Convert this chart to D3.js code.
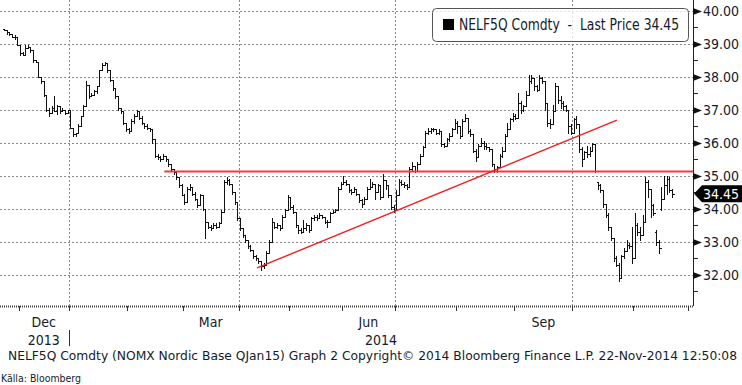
<!DOCTYPE html>
<html lang="en">
	<head>
		<meta charset="utf-8">
		<title>NELF5Q Comdty</title>
		<script type="text/javascript" src="https://cdn.jsdelivr.net/npm/d3@7"></script>
		<style type="text/css">
			body{
				margin: 0px;
				overflow: hidden;
				background: #fff;
			}
			text{
				font-family: "Liberation Sans Narrow", "DejaVu Sans Condensed", sans-serif;
				fill: #141b2d;
			}
			.grid line{
				stroke: #8a8a8a;
				stroke-dasharray: 2,2;
				shape-rendering: crispEdges;
			}
			.bar{
				stroke: #111;
				stroke-width: 1;
				shape-rendering: crispEdges;
			}
		</style>
	</head>
	<body>
		<script type="text/javascript">

			var width = 742;
			var height = 385;

			//Daily OHLC, 22-Nov-2013 .. 21-Nov-2014 (trading days)
			const opens = [39.45,39.40,39.35,39.30,39.20,39.20,38.95,38.70,38.65,38.85,38.90,38.80,38.50,38.45,38.00,37.85,37.45,37.00,36.90,37.05,
				36.95,37.10,36.95,37.00,36.90,37.00,36.45,36.25,36.30,36.50,36.80,37.10,37.75,37.40,37.45,37.55,37.70,38.20,38.35,38.40,
				38.20,37.90,37.65,37.40,37.05,36.95,36.60,36.40,36.35,36.65,36.80,36.95,36.75,36.60,36.50,36.45,36.40,36.10,35.60,35.55,
				35.50,35.60,35.50,35.35,35.20,35.10,34.95,34.70,34.40,34.20,34.60,34.65,34.45,34.30,34.10,34.40,34.00,33.60,33.45,33.40,
				33.50,33.45,33.55,33.90,34.80,34.85,34.75,34.50,34.20,33.70,33.40,33.20,33.05,32.85,32.75,32.55,32.50,32.40,32.25,32.30,
				32.65,33.00,33.60,33.45,33.50,33.40,33.75,33.95,34.35,34.05,33.90,33.50,33.35,33.30,33.40,33.50,33.35,33.70,33.75,33.70,
				33.80,33.75,33.60,33.60,33.85,33.90,33.95,34.60,34.75,34.80,34.75,34.55,34.50,34.60,34.45,34.25,34.15,34.30,34.60,34.65,
				34.75,34.50,34.70,34.35,34.85,34.70,34.40,34.05,33.95,34.40,34.80,34.75,34.70,34.65,35.20,35.30,35.15,35.35,35.60,35.85,
				36.30,36.35,36.40,36.40,36.30,36.35,35.95,35.90,36.10,36.20,36.40,36.60,36.50,36.20,36.65,36.75,36.35,36.25,35.75,35.55,
				35.90,36.00,35.90,35.85,35.80,35.35,35.20,35.25,35.60,35.75,36.20,36.40,36.70,36.80,36.75,37.20,37.00,37.10,37.45,37.85,
				37.95,37.70,37.60,37.95,37.85,37.20,36.60,36.55,36.95,37.70,37.30,37.20,37.10,37.00,36.50,36.30,36.70,36.55,35.80,35.50,
				35.70,35.65,35.75,35.95,34.80,34.70,34.55,34.15,33.80,33.45,33.10,32.50,32.30,31.90,32.55,32.70,32.90,32.85,32.50,33.50,
				33.30,33.20,33.60,34.80,34.60,34.10,33.30,33.00,34.00,34.30,34.70,34.90,34.55];
			const highs = [39.45,39.40,39.35,39.30,39.25,39.20,38.95,38.75,38.95,38.95,38.90,38.80,38.50,38.45,38.00,37.85,37.45,37.05,37.10,37.40,
				37.15,37.10,37.05,37.00,37.00,37.00,36.45,36.30,36.55,36.80,37.15,37.85,37.75,37.50,37.60,37.70,38.20,38.40,38.45,38.40,
				38.20,37.90,37.65,37.40,37.05,36.95,36.60,36.45,36.70,36.85,37.00,36.95,36.80,36.60,36.55,36.45,36.40,36.10,35.65,35.60,
				35.65,35.60,35.50,35.35,35.20,35.10,34.95,34.75,34.45,34.65,34.75,34.65,34.50,34.30,34.45,34.40,34.00,33.60,33.50,33.55,
				33.55,33.60,33.95,34.85,34.95,34.90,34.75,34.50,34.20,33.70,33.40,33.20,33.05,32.90,32.75,32.60,32.50,32.40,32.35,32.70,
				33.05,33.70,33.60,33.55,33.50,33.80,34.00,34.40,34.35,34.10,33.90,33.50,33.40,33.65,33.55,33.50,33.75,33.80,33.80,33.85,
				33.80,33.75,33.65,33.90,33.95,34.00,34.65,34.80,35.00,34.85,34.75,34.60,34.65,34.60,34.45,34.30,34.35,34.65,34.90,34.80,
				34.75,34.75,34.70,35.05,34.85,34.70,34.40,34.10,34.55,34.90,34.85,34.80,34.75,35.25,35.40,35.30,35.40,35.65,35.90,36.35,
				36.45,36.45,36.45,36.40,36.40,36.35,36.00,36.15,36.30,36.45,36.70,36.65,36.50,36.70,36.85,36.75,36.40,36.25,35.80,35.95,
				36.15,36.05,36.00,35.85,35.80,35.35,35.30,35.65,35.85,36.25,36.60,36.75,36.90,36.85,37.50,37.25,37.15,37.55,38.05,38.05,
				37.95,37.75,38.05,38.00,37.85,37.20,36.70,37.15,37.80,37.70,37.40,37.25,37.15,37.00,36.55,36.75,36.80,36.55,35.85,35.75,
				35.90,35.85,36.00,35.95,34.80,34.75,34.55,34.15,33.85,33.45,33.10,32.55,32.35,32.60,32.80,33.05,32.95,33.45,33.85,33.55,
				33.45,33.80,34.95,34.85,34.60,34.15,33.35,33.05,34.65,35.00,35.00,34.95,34.60];
			const lows = [39.40,39.30,39.25,39.20,39.15,38.95,38.65,38.65,38.65,38.85,38.75,38.45,38.45,38.00,37.80,37.40,36.95,36.80,36.90,36.95,
				36.85,36.90,36.95,36.85,36.90,36.45,36.20,36.20,36.30,36.50,36.80,37.10,37.35,37.40,37.45,37.50,37.70,38.20,38.35,38.15,
				37.85,37.60,37.35,37.00,36.90,36.55,36.35,36.30,36.35,36.60,36.80,36.70,36.55,36.45,36.40,36.35,36.00,35.55,35.50,35.45,
				35.50,35.45,35.30,35.15,35.05,34.90,34.65,34.40,34.15,34.20,34.55,34.40,34.25,34.05,34.10,33.95,33.10,33.40,33.35,33.40,
				33.40,33.45,33.55,33.90,34.75,34.70,34.45,34.15,33.65,33.35,33.15,33.00,32.80,32.70,32.50,32.45,32.35,32.15,32.20,32.30,
				32.65,33.00,33.40,33.40,33.35,33.40,33.75,33.95,34.00,33.85,33.45,33.25,33.25,33.30,33.35,33.30,33.35,33.65,33.65,33.70,
				33.70,33.55,33.45,33.60,33.85,33.90,33.95,34.60,34.75,34.70,34.50,34.45,34.50,34.40,34.20,34.05,34.15,34.30,34.60,34.65,
				34.30,34.50,34.30,34.35,34.60,34.35,34.00,33.90,33.95,34.40,34.70,34.65,34.60,34.65,35.15,35.10,35.15,35.35,35.60,35.85,
				36.25,36.30,36.35,36.25,36.25,35.90,35.85,35.90,36.05,36.20,36.40,36.30,36.15,36.20,36.65,36.30,36.20,35.70,35.45,35.55,
				35.90,35.80,35.80,35.75,35.30,35.10,35.10,35.25,35.55,35.75,36.20,36.40,36.65,36.70,36.75,36.90,36.95,37.10,37.45,37.80,
				37.60,37.55,37.60,37.80,37.00,36.50,36.45,36.55,36.95,37.20,37.05,37.00,36.95,36.30,36.25,36.30,36.45,35.70,35.30,35.50,
				35.55,35.60,35.75,35.10,34.60,34.50,34.05,33.75,33.35,33.05,32.40,32.25,31.80,31.90,32.50,32.70,32.80,32.35,32.50,33.20,
				33.05,33.20,33.60,34.35,33.75,33.80,32.90,32.65,33.95,34.30,34.45,34.50,34.35];
			const closes = [39.40,39.35,39.30,39.20,39.20,38.95,38.70,38.65,38.85,38.90,38.80,38.50,38.45,38.00,37.85,37.45,37.00,36.90,37.05,36.95,
				37.10,36.95,37.00,36.90,37.00,36.45,36.25,36.30,36.50,36.80,37.10,37.75,37.40,37.45,37.55,37.70,38.20,38.35,38.40,38.20,
				37.90,37.65,37.40,37.05,36.95,36.60,36.40,36.35,36.65,36.80,36.95,36.75,36.60,36.50,36.45,36.40,36.10,35.60,35.55,35.50,
				35.60,35.50,35.35,35.20,35.10,34.95,34.70,34.40,34.20,34.60,34.65,34.45,34.30,34.10,34.40,34.00,33.60,33.45,33.40,33.50,
				33.45,33.55,33.90,34.80,34.85,34.75,34.50,34.20,33.70,33.40,33.20,33.05,32.85,32.75,32.55,32.50,32.40,32.25,32.30,32.65,
				33.00,33.60,33.45,33.50,33.40,33.75,33.95,34.35,34.05,33.90,33.50,33.35,33.30,33.40,33.50,33.35,33.70,33.75,33.70,33.80,
				33.75,33.60,33.60,33.85,33.90,33.95,34.60,34.75,34.80,34.75,34.55,34.50,34.60,34.45,34.25,34.15,34.30,34.60,34.65,34.75,
				34.50,34.70,34.35,34.85,34.70,34.40,34.05,33.95,34.40,34.80,34.75,34.70,34.65,35.20,35.30,35.15,35.35,35.60,35.85,36.30,
				36.35,36.40,36.40,36.30,36.35,35.95,35.90,36.10,36.20,36.40,36.60,36.50,36.20,36.65,36.75,36.35,36.25,35.75,35.55,35.90,
				36.00,35.90,35.85,35.80,35.35,35.20,35.25,35.60,35.75,36.20,36.40,36.70,36.80,36.75,37.20,37.00,37.10,37.45,37.85,37.95,
				37.70,37.60,37.95,37.85,37.20,36.60,36.55,36.95,37.70,37.30,37.20,37.10,37.00,36.50,36.30,36.70,36.55,35.80,35.50,35.70,
				35.65,35.75,35.95,35.15,34.70,34.55,34.15,33.80,33.45,33.10,32.50,32.30,31.90,32.55,32.70,32.90,32.85,32.50,33.50,33.30,
				33.20,33.60,34.80,34.60,34.10,33.85,33.00,32.80,34.30,34.70,34.90,34.55,34.45];

			//Month boundaries in trading-day index
			const monthNames = ['Dec', 'Jan', 'Feb', 'Mar', 'Apr', 'May', 'Jun', 'Jul', 'Aug', 'Sep', 'Oct', 'Nov'];
			const monthStarts = [5.5, 24.5, 46.5, 67.5, 88.5, 107.5, 127.5, 147.5, 170.5, 192.5, 214.5, 237.5, 258.3];
			const labelledMonths = ['Dec', 'Mar', 'Jun', 'Sep'];
			const gridMonths = ['Jan', 'Apr', 'Jul', 'Oct'];
			const years = [{ label: '2013', from: 5.5, to: 24.5 }, { label: '2014', from: 24.5, to: 260 }];

			const yTicks = [32, 33, 34, 35, 36, 37, 38, 39, 40];
			const yMinor = [31.5, 32.5, 33.5, 34.5, 35.5, 36.5, 37.5, 38.5, 39.5];
			const lastPrice = 34.45;

			//Red trend lines drawn on the chart
			const resistance = { from: 60.5, to: 260, value: 35.12 };
			const trend = { from: 95.5, fromValue: 32.2, to: 231.3, toValue: 36.68 };

			const title = 'NELF5Q Comdty  -  Last Price 34.45';
			const footer = 'NELF5Q Comdty (NOMX Nordic Base QJan15) Graph 2 Copyright\u00a9 2014 Bloomberg Finance L.P. 22-Nov-2014 12:50:08';
			const source = 'K\u00e4lla: Bloomberg';

			const plotRight = 693;
			const plotBottom = 306;

			const xScale = d3.scaleLinear()
				.domain([0, 252])
				.range([4, 671.8]);

			const yScale = d3.scaleLinear()
				.domain([32, 40])
				.range([274.5, 10.5]);

			var svg = d3.select('body')
				.append('svg')
				.attr('width', width)
				.attr('height', height);

			//Grid
			const grid = svg.append('g').attr('class', 'grid');
			grid.selectAll('line.h')
				.data(yTicks)
				.enter()
				.append('line')
				.attr('x1', 0)
				.attr('x2', plotRight)
				.attr('y1', d => Math.round(yScale(d)) + 0.5)
				.attr('y2', d => Math.round(yScale(d)) + 0.5);

			grid.selectAll('line.v')
				.data(gridMonths)
				.enter()
				.append('line')
				.attr('x1', d => Math.round(xScale(monthStarts[monthNames.indexOf(d)])) + 0.5)
				.attr('x2', d => Math.round(xScale(monthStarts[monthNames.indexOf(d)])) + 0.5)
				.attr('y1', 0)
				.attr('y2', plotBottom);

			//Bars
			const bars = svg.append('g');
			const idx = d3.range(closes.length);
			const bx = i => Math.round(xScale(i)) + 0.5;

			bars.selectAll('line.hl')
				.data(idx)
				.enter()
				.append('line')
				.attr('class', 'bar')
				.attr('x1', bx)
				.attr('x2', bx)
				.attr('y1', i => Math.round(yScale(highs[i])))
				.attr('y2', i => Math.round(yScale(lows[i])) + 1);

			bars.selectAll('line.o')
				.data(idx)
				.enter()
				.append('line')
				.attr('class', 'bar')
				.attr('x1', i => bx(i) - 2)
				.attr('x2', bx)
				.attr('y1', i => Math.round(yScale(opens[i])) + 0.5)
				.attr('y2', i => Math.round(yScale(opens[i])) + 0.5);

			bars.selectAll('line.c')
				.data(idx)
				.enter()
				.append('line')
				.attr('class', 'bar')
				.attr('x1', bx)
				.attr('x2', i => bx(i) + 2)
				.attr('y1', i => Math.round(yScale(closes[i])) + 0.5)
				.attr('y2', i => Math.round(yScale(closes[i])) + 0.5);

			//Trend lines
			svg.append('line')
				.attr('x1', xScale(resistance.from))
				.attr('x2', plotRight)
				.attr('y1', yScale(resistance.value))
				.attr('y2', yScale(resistance.value))
				.attr('stroke', '#f23a3a')
				.attr('stroke-width', 2);

			svg.append('line')
				.attr('x1', xScale(trend.from))
				.attr('x2', xScale(trend.to))
				.attr('y1', yScale(trend.fromValue))
				.attr('y2', yScale(trend.toValue))
				.attr('stroke', '#f21e1e')
				.attr('stroke-width', 1.4);

			//Right axis
			const axis = svg.append('g');
			axis.append('line')
				.attr('x1', plotRight + 0.5)
				.attr('x2', plotRight + 0.5)
				.attr('y1', 0)
				.attr('y2', plotBottom)
				.attr('stroke', '#222');

			axis.selectAll('path.tri')
				.data(yTicks)
				.enter()
				.append('path')
				.attr('d', d => {
					const y = Math.round(yScale(d)) + 0.5;
					return `M${plotRight},${y - 3.5}L${plotRight + 9},${y}L${plotRight},${y + 3.5}Z`;
				})
				.attr('fill', '#111');

			axis.selectAll('line.minor')
				.data(yMinor)
				.enter()
				.append('line')
				.attr('x1', plotRight)
				.attr('x2', plotRight + 5)
				.attr('y1', d => Math.round(yScale(d)) + 0.5)
				.attr('y2', d => Math.round(yScale(d)) + 0.5)
				.attr('stroke', '#222');

			axis.selectAll('text')
				.data(yTicks)
				.enter()
				.append('text')
				.attr('x', 703)
				.attr('y', d => yScale(d) + 5)
				.attr('font-size', '14px')
				.text(d => d3.format('.2f')(d));

			//Last price badge
			const ly = yScale(lastPrice);
			axis.append('path')
				.attr('d', `M${plotRight + 1},${ly}L${plotRight + 9},${ly - 8.5}L742,${ly - 8.5}L742,${ly + 8.5}L${plotRight + 9},${ly + 8.5}Z`)
				.attr('fill', '#000');
			axis.append('text')
				.attr('x', 703)
				.attr('y', ly + 5)
				.attr('font-size', '14px')
				.style('fill', '#fff')
				.text(d3.format('.2f')(lastPrice));

			//Bottom axis
			svg.append('line')
				.attr('x1', 0)
				.attr('x2', plotRight + 1)
				.attr('y1', plotBottom + 0.5)
				.attr('y2', plotBottom + 0.5)
				.attr('stroke', '#444')
				.attr('stroke-width', 2)
				.attr('stroke-dasharray', '1,1');

			svg.selectAll('line.mtick')
				.data(monthStarts)
				.enter()
				.append('line')
				.attr('x1', d => Math.round(xScale(d)) + 0.5)
				.attr('x2', d => Math.round(xScale(d)) + 0.5)
				.attr('y1', plotBottom)
				.attr('y2', plotBottom + 5)
				.attr('stroke', '#333');

			svg.selectAll('text.month')
				.data(labelledMonths)
				.enter()
				.append('text')
				.attr('x', d => {
					const k = monthNames.indexOf(d);
					return (xScale(monthStarts[k]) + xScale(monthStarts[k + 1])) / 2;
				})
				.attr('y', 327)
				.attr('text-anchor', 'middle')
				.attr('font-size', '14px')
				.text(d => d);

			svg.selectAll('text.year')
				.data(years)
				.enter()
				.append('text')
				.attr('x', d => (xScale(d.from) + Math.min(plotRight, xScale(d.to))) / 2)
				.attr('y', 345)
				.attr('text-anchor', 'middle')
				.attr('font-size', '14px')
				.text(d => d.label);

			svg.append('line')
				.attr('x1', Math.round(xScale(years[1].from)) + 0.5)
				.attr('x2', Math.round(xScale(years[1].from)) + 0.5)
				.attr('y1', 330)
				.attr('y2', 346)
				.attr('stroke', '#333');

			//Footer
			svg.append('text')
				.attr('x', 8)
				.attr('y', 360)
				.attr('font-size', '13px')
				.attr('textLength', 729)
				.attr('lengthAdjust', 'spacingAndGlyphs')
				.text(footer);

			svg.append('text')
				.attr('x', 1)
				.attr('y', 382)
				.attr('font-size', '11px')
				.attr('textLength', 80)
				.attr('lengthAdjust', 'spacingAndGlyphs')
				.text(source);

			//Legend
			const legend = svg.append('g');
			legend.append('rect')
				.attr('x', 432.5)
				.attr('y', 8.5)
				.attr('width', 256)
				.attr('height', 33)
				.attr('rx', 4)
				.attr('fill', '#fff')
				.attr('fill-opacity', 0.75)
				.attr('stroke', '#555');
			legend.append('rect')
				.attr('x', 443)
				.attr('y', 19)
				.attr('width', 11)
				.attr('height', 11)
				.attr('fill', '#000');
			legend.append('text')
				.attr('x', 459)
				.attr('y', 30)
				.attr('font-size', '15px')
				.attr('textLength', 220)
				.attr('lengthAdjust', 'spacingAndGlyphs')
				.attr('xml:space', 'preserve')
				.style('white-space', 'pre')
				.text(title);

		</script>
	</body>
</html>
